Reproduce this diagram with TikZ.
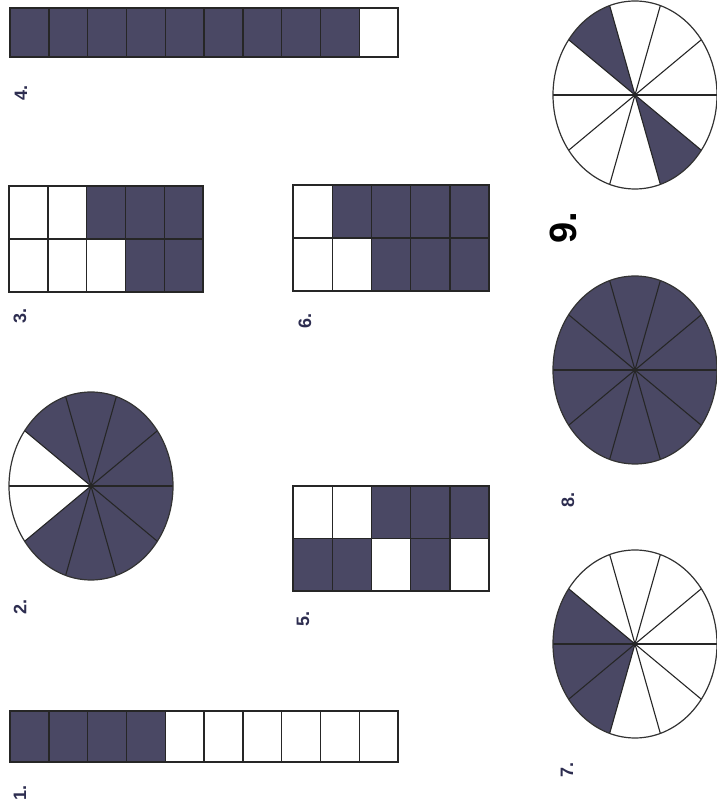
\documentclass[tikz,border=0pt]{standalone}
\usepackage{fontspec}
\setmainfont{Liberation Sans}
\usetikzlibrary{calc}
\definecolor{dk}{RGB}{74,72,100}
\definecolor{lab}{RGB}{45,45,80}
\newcommand\gridrow[5]{%
  \foreach \f [count=\k from 0] in {#5} {
    \ifnum\f=1 \fill[dk] ({#1+\k*#3},#2) rectangle ++(#3,#4);\fi
    \draw[cell] ({#1+\k*#3},#2) rectangle ++(#3,#4);
  }}
\newcommand\pie[2]{%
  \fill[white] (#1) ellipse[x radius=82pt, y radius=94pt];
  \foreach \a in {#2} {
    \fill[dk] (#1) -- ++(\a:82pt and 94pt) arc[start angle=\a, end angle={\a+36}, x radius=82pt, y radius=94pt] -- cycle;
  }
  \foreach \a in {0,36,...,144} {
    \draw[spoke] ($(#1)+(\a:82pt and 94pt)$) -- ($(#1)+({\a+180}:82pt and 94pt)$);
  }
  \draw[rim] (#1) ellipse[x radius=82pt, y radius=94pt];
}
\begin{document}
\begin{tikzpicture}[x=1pt,y=1pt,
  cell/.style={draw=black!85, line width=1.4pt},
  spoke/.style={draw=black!85, line width=1.1pt},
  rim/.style={draw=black!80, line width=1.2pt},
  lbl/.style={rotate=90, text=lab, font=\bfseries\fontsize{18}{18}\selectfont, inner sep=0pt}]
\useasboundingbox (0,0) rectangle (716,804);
\fill[white] (0,0) rectangle (716,804);
% bar 4
\gridrow{10}{747}{38.8}{49}{1,1,1,1,1,1,1,1,1,0}
% bar 1
\gridrow{10}{42}{38.8}{51}{1,1,1,1,0,0,0,0,0,0}
% grid 3
\gridrow{9}{565}{38.8}{53}{0,0,1,1,1}
\gridrow{9}{512}{38.8}{53}{0,0,0,1,1}
% grid 6
\gridrow{293}{566}{39.2}{53}{0,1,1,1,1}
\gridrow{293}{513}{39.2}{53}{0,0,1,1,1}
% grid 5
\gridrow{293}{265.5}{39.2}{52.5}{0,0,1,1,1}
\gridrow{293}{213}{39.2}{52.5}{1,1,0,1,0}
% pies
\coordinate (p2) at (91,318);
\coordinate (p9) at (635,709);
\coordinate (p8) at (635,434);
\coordinate (p7) at (635,160);
\pie{p2}{0,36,72,108,216,252,288,324}
\pie{p9}{108,288}
\pie{p8}{0,36,72,108,144,180,216,252,288,324}
\pie{p7}{144,180,216}
% labels
\node[lbl] (l4) at (21,711) {4.};
\node[lbl] (l3) at (20,488) {3.};
\node[lbl] (l2) at (20,197) {2.};
\node[lbl] (l1) at (20,11) {1.};
\node[lbl] (l6) at (305,483) {6.};
\node[lbl] (l5) at (303,185) {5.};
\node[lbl, text=black, font=\bfseries\fontsize{38}{38}\selectfont] (l9) at (563,576) {9.};
\node[lbl] (l8) at (568,304) {8.};
\node[lbl] (l7) at (567,34) {7.};
\end{tikzpicture}
\end{document}
